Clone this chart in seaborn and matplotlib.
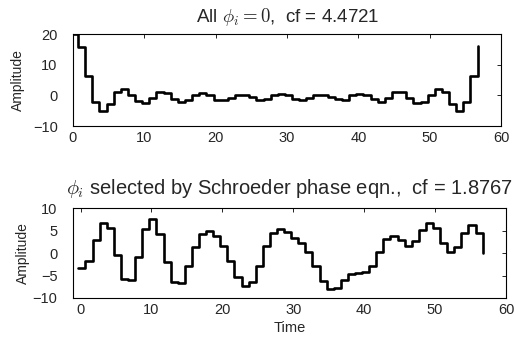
import numpy as np
import pandas as pd
import matplotlib
matplotlib.use("Agg")
import matplotlib.pyplot as plt
import seaborn as sns

# sample times (one step per sample)
time = np.arange(58) - 0.3

# all phases zero
amp_zero = [20.0, 15.8, 6.3, -2.1, -5.1, -2.7, 1.1, 2.2, 0.2, -1.8,
            -2.6, -0.8, 1.1, 0.9, -1.0, -2.1, -1.4, 0.0, 0.9, 0.0,
            -1.4, -1.6, -0.8, 0.3, 0.3, -0.5, -1.5, -1.3, 0.0, 0.6,
            0.0, -1.3, -1.5, -0.8, 0.3, 0.3, -0.4, -1.3, -1.4, 0.0,
            0.6, 0.0, -1.1, -2.0, -0.9, 1.0, 1.1, -0.8, -2.4, -2.0,
            0.3, 2.2, 1.3, -2.8, -5.0, -2.0, 6.3, 16.0]

# Schroeder phases
amp_schroeder = [-3.4, -1.8, 2.9, 6.6, 5.5, -0.4, -5.7, -6.0, -0.9, 5.3,
                 7.5, 4.2, -2.0, -6.5, -6.6, -2.9, 1.3, 4.2, 5.0, 3.9,
                 1.5, -1.8, -5.3, -7.3, -6.4, -2.9, 1.5, 4.5, 5.3, 4.6,
                 3.4, 2.3, 0.2, -2.8, -6.2, -8.0, -7.8, -6.1, -4.7, -4.5,
                 -4.2, -2.8, 0.2, 3.1, 3.8, 2.8, 1.6, 2.6, 5.1, 6.6,
                 5.5, 2.3, 0.2, 1.3, 4.5, 6.2, 4.4, 0.0]

top_title = r"All $\phi_i = 0$,  cf = 4.4721"
bottom_title = r"$\phi_i$ selected by Schroeder phase eqn.,  cf = 1.8767"

sns.set_style("white")
plt.rcParams["font.family"] = ["Liberation Sans", "DejaVu Sans"]
plt.rcParams["mathtext.fontset"] = "cm"

fig = plt.figure(figsize=(5.14, 3.39), dpi=100)
ax1 = fig.add_axes([0.142, 0.628, 0.833, 0.271])
ax2 = fig.add_axes([0.1415, 0.121, 0.843, 0.265])

df1 = pd.DataFrame({"t": time, "a": amp_zero})
df2 = pd.DataFrame({"t": time, "a": amp_schroeder})

sns.lineplot(data=df1, x="t", y="a", ax=ax1, color="black", linewidth=1.9,
             drawstyle="steps-post", sort=False)
sns.lineplot(data=df2, x="t", y="a", ax=ax2, color="black", linewidth=1.9,
             drawstyle="steps-post", sort=False)

ax1.set_xlim(0, 60)
ax1.set_ylim(-10, 20)
ax1.set_yticks([-10, 0, 10, 20])
ax2.set_xlim(-1.1, 59.8)
ax2.set_ylim(-10, 10)
ax2.set_yticks([-10, -5, 0, 5, 10])

for ax in (ax1, ax2):
    ax.set_xticks(range(0, 61, 10))
    ax.tick_params(direction="in", length=3, width=0.6, top=True, right=True,
                   labelsize=10.5, color="black")
    ax.tick_params(axis="y", pad=11)
    ax.tick_params(axis="x", pad=3.5)
    for s in ax.spines.values():
        s.set_color("black")
        s.set_linewidth(0.8)
    ax.set_ylabel("Amplitude", fontsize=10)
    ax.set_xlabel("")

ax1.yaxis.set_label_coords(-0.112, 0.5)
ax2.yaxis.set_label_coords(-0.098, 0.5)
ax1.set_title(top_title, fontsize=13.5, pad=9)
ax2.set_title(bottom_title, fontsize=14.5, pad=10)
ax2.set_xlabel("Time", fontsize=10.5, labelpad=3)

fig.savefig("out.png", dpi=100)
